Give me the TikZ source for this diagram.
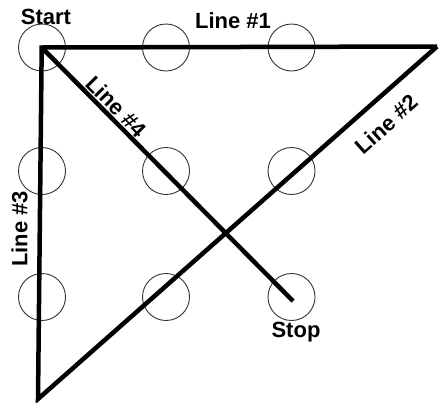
\documentclass[tikz,border=0pt]{standalone}
\usepackage{fontspec}
\setmainfont{Liberation Sans}
\begin{document}
\begin{tikzpicture}[x=1pt,y=-1pt,
  dot/.style={circle,draw=black!80,line width=0.9pt,minimum size=47pt,inner sep=0pt},
  thick line/.style={line width=4.5pt,line join=miter,line cap=butt},
  lbl/.style={font=\fontsize{22}{24}\selectfont\bfseries,inner sep=0pt}]
\useasboundingbox (0,0) rectangle (443,402);
% circles
\foreach \i/\x in {1/42,2/166,3/291.5}{
  \foreach \j/\y in {1/47.5,2/171,3/297}{
    \node[dot] (c\i\j) at (\x,\y) {};
  }
}
% corner points
\coordinate (start) at (41.7,47.5);
\coordinate (right) at (437,46.5);
\coordinate (bottom) at (38,399);
\coordinate (stop) at (293,301);
% lines
\draw[thick line] (right) -- (start) -- (bottom) -- (right);
\draw[thick line] (start) -- (stop);
% labels
\node[lbl,anchor=base] (tstart) at (46,24.5) {Start};
\node[lbl,anchor=base] (tstop) at (296,337) {Stop};
\node[lbl,anchor=base] (l1) at (233,28) {Line \#1};
\node[lbl,rotate=41.6] (l2) at (386.5,124) {Line \#2};
\node[lbl,rotate=90] (l3) at (19.5,229) {Line \#3};
\node[lbl,rotate=-45.3] (l4) at (116.5,106.5) {Line \#4};
\end{tikzpicture}
\end{document}
